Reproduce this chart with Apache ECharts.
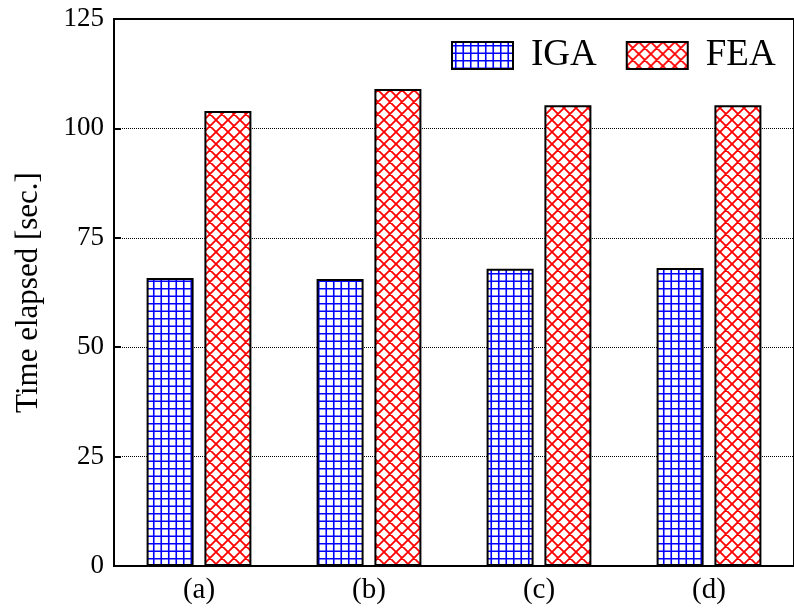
<!DOCTYPE html>
<html>
<head>
<meta charset="utf-8">
<script src="https://cdn.jsdelivr.net/npm/echarts@6/dist/echarts.min.js"></script>
<style>
  html, body { margin: 0; padding: 0; background: #fff; }
  #chart { width: 794px; height: 612px; }
</style>
</head>
<body>
<div id="chart"></div>
<script>
const categories = ['(a)', '(b)', '(c)', '(d)'];
const igaTimes = [65.8, 65.6, 67.9, 68.1];
const feaTimes = [104.0, 109.0, 105.3, 105.3];
const yTicks = { min: 0, max: 125, interval: 25 };

// Blue square grid hatch
function gridHatch() {
  const c = document.createElement('canvas');
  c.width = 15; c.height = 15;
  const g = c.getContext('2d');
  g.fillStyle = '#fff';
  g.fillRect(0, 0, 15, 15);
  g.strokeStyle = '#0000ff';
  g.lineWidth = 1.6;
  g.beginPath();
  [3.75, 11.25].forEach(p => {
    g.moveTo(p, 0); g.lineTo(p, 15);
    g.moveTo(0, p); g.lineTo(15, p);
  });
  g.stroke();
  return c;
}

// Red diagonal cross hatch
function crossHatch() {
  const s = 12;
  const c = document.createElement('canvas');
  c.width = s; c.height = s;
  const g = c.getContext('2d');
  g.fillStyle = '#fff';
  g.fillRect(0, 0, s, s);
  g.strokeStyle = '#ff0000';
  g.lineWidth = 1.8;
  g.beginPath();
  for (let k = -1; k <= 1; k++) {
    g.moveTo(k * s, 0); g.lineTo(k * s + s, s);
    g.moveTo(k * s, s); g.lineTo(k * s + s, 0);
  }
  g.stroke();
  return c;
}

const serif = '"Liberation Serif", "DejaVu Serif", serif';
const chart = echarts.init(document.getElementById('chart'), null, { renderer: 'canvas' });

chart.setOption({
  animation: false,
  backgroundColor: '#fff',
  grid: {
    left: 114, top: 19, width: 690, height: 547,
    show: true, borderColor: '#000', borderWidth: 2, backgroundColor: 'transparent'
  },
  legend: {
    left: 451, top: 37, padding: 0,
    icon: 'rect',
    itemWidth: 61, itemHeight: 27, itemGap: 29,
    textStyle: { fontFamily: serif, fontSize: 37, color: '#000', padding: [0, 0, 0, 13] },
    data: ['IGA', 'FEA']
  },
  xAxis: {
    type: 'category',
    data: categories,
    axisLine: { lineStyle: { color: '#000', width: 2 } },
    axisTick: { show: false },
    axisLabel: { fontFamily: serif, fontSize: 29, color: '#000', margin: 10 }
  },
  yAxis: {
    type: 'value',
    min: yTicks.min, max: yTicks.max, interval: yTicks.interval,
    name: 'Time elapsed [sec.]',
    nameLocation: 'middle',
    nameGap: 70,
    nameTextStyle: { fontFamily: serif, fontSize: 31, color: '#000' },
    axisLine: { show: true, lineStyle: { color: '#000', width: 2 } },
    axisTick: { show: true, inside: true, length: 7, lineStyle: { color: '#000', width: 2 } },
    axisLabel: { fontFamily: serif, fontSize: 27, color: '#000', margin: 10 },
    splitLine: { show: true, lineStyle: { color: '#000', width: 1, type: [1, 1] } }
  },
  series: [
    {
      name: 'IGA', type: 'bar', data: igaTimes,
      barWidth: 47, barGap: '23%',
      itemStyle: {
        color: { image: gridHatch(), repeat: 'repeat' },
        borderColor: '#000', borderWidth: 2
      }
    },
    {
      name: 'FEA', type: 'bar', data: feaTimes,
      barWidth: 47,
      itemStyle: {
        color: { image: crossHatch(), repeat: 'repeat' },
        borderColor: '#000', borderWidth: 2
      }
    }
  ]
});
</script>
</body>
</html>
